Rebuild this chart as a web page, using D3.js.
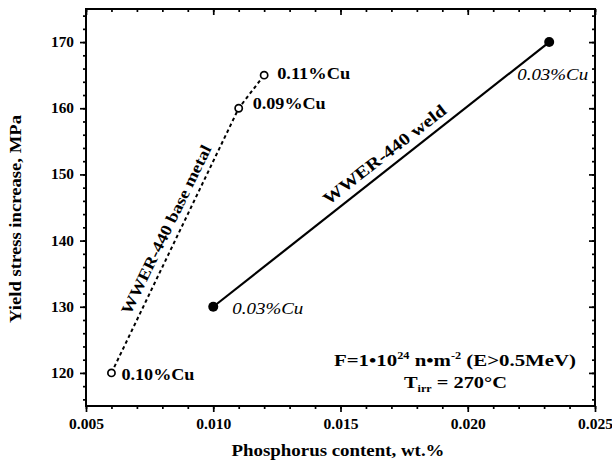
<!DOCTYPE html>
<html>
<head>
<meta charset="utf-8">
<script src="https://cdn.jsdelivr.net/npm/d3@7"></script>
<style>
  html, body { margin: 0; padding: 0; background: #fff; }
  svg { display: block; }
  text { font-family: "Liberation Serif", "Times New Roman", serif; fill: #000; }
</style>
</head>
<body>
<svg id="chart" width="612" height="463"></svg>
<script>
// Yield stress increase vs phosphorus content, WWER-440 steels
const xTicks = [0.005, 0.010, 0.015, 0.020, 0.025];
const xTickLabels = ["0.005", "0.010", "0.015", "0.020", "0.025"];
const yTicks = [120, 130, 140, 150, 160, 170];

// base metal series (open circles, dashed line)
const basePhosphorus = [0.006, 0.011, 0.012];
const baseYield = [120, 160, 165];
const baseCopper = ["0.10%Cu", "0.09%Cu", "0.11%Cu"];

// weld series (filled circles, solid line)
const weldPhosphorus = [0.010, 0.0232];
const weldYield = [130, 170];
const weldCopper = ["0.03%Cu", "0.03%Cu"];

const ink = "#000";
const svg = d3.select("#chart");
const plotLeft = 86, plotRight = 595, plotTop = 9, plotBottom = 406;

const x = d3.scaleLinear().domain([0.005, 0.025]).range([plotLeft, plotRight]);
const y = d3.scaleLinear().domain([115, 175]).range([plotBottom, plotTop]);

const xMinor = d3.range(0.005, 0.02501, 0.001).map(v => +v.toFixed(3));
const yMinor = d3.range(116, 175, 2);

// lettering is set wide: stretch each string to its set width
function setWidth(sel, w) {
  return sel.attr("textLength", w).attr("lengthAdjust", "spacingAndGlyphs");
}

function styleAxis(g) {
  g.select(".domain").remove();
  g.selectAll("line").attr("stroke", ink).attr("stroke-width", 1.7);
}

// minor ticks
svg.append("g").attr("transform", `translate(0,${plotBottom})`)
  .call(d3.axisBottom(x).tickValues(xMinor).tickSize(3).tickFormat(""))
  .call(styleAxis);
svg.append("g").attr("transform", `translate(0,${plotTop})`)
  .call(d3.axisTop(x).tickValues(xMinor).tickSize(-3).tickFormat(""))
  .call(styleAxis);
svg.append("g").attr("transform", `translate(${plotLeft},0)`)
  .call(d3.axisLeft(y).tickValues(yMinor).tickSize(3).tickFormat(""))
  .call(styleAxis);
svg.append("g").attr("transform", `translate(${plotRight},0)`)
  .call(d3.axisRight(y).tickValues(yMinor).tickSize(-3).tickFormat(""))
  .call(styleAxis);

// major ticks with labels
svg.append("g").attr("transform", `translate(0,${plotBottom})`)
  .call(d3.axisBottom(x).tickValues(xTicks).tickSize(6).tickPadding(7)
    .tickFormat((d, i) => xTickLabels[i]))
  .call(styleAxis)
  .call(g => g.selectAll("text").attr("font-size", 14).attr("font-weight", "bold")
    .attr("font-family", "Liberation Serif").attr("fill", ink)
    .call(setWidth, 35));
svg.append("g").attr("transform", `translate(0,${plotTop})`)
  .call(d3.axisTop(x).tickValues(xTicks).tickSize(-6).tickFormat(""))
  .call(styleAxis);
svg.append("g").attr("transform", `translate(${plotLeft},0)`)
  .call(d3.axisLeft(y).tickValues(yTicks).tickSize(6).tickPadding(6))
  .call(styleAxis)
  .call(g => g.selectAll("text").attr("font-size", 14).attr("font-weight", "bold")
    .attr("font-family", "Liberation Serif").attr("fill", ink)
    .call(setWidth, 23));
svg.append("g").attr("transform", `translate(${plotRight},0)`)
  .call(d3.axisRight(y).tickValues(yTicks).tickSize(-6).tickFormat(""))
  .call(styleAxis);

// frame
svg.append("rect")
  .attr("x", plotLeft).attr("y", plotTop)
  .attr("width", plotRight - plotLeft).attr("height", plotBottom - plotTop)
  .attr("fill", "none").attr("stroke", ink).attr("stroke-width", 2);

// axis titles
svg.append("text")
  .attr("x", 338).attr("y", 456)
  .attr("text-anchor", "middle").attr("font-size", 17).attr("font-weight", "bold")
  .text("Phosphorus content, wt.%")
  .call(setWidth, 213);
svg.append("text")
  .attr("transform", "translate(21,219) rotate(-90)")
  .attr("text-anchor", "middle").attr("font-size", 17).attr("font-weight", "bold")
  .text("Yield stress increase, MPa")
  .call(setWidth, 208);

const line = d3.line().x(d => x(d[0])).y(d => y(d[1]));

// base metal
const baseNudge = [[10, 7], [14, 1], [13, 4]];
const baseData = basePhosphorus.map((p, i) => [p, baseYield[i], baseCopper[i]]);
svg.append("path").datum(baseData)
  .attr("d", line).attr("fill", "none")
  .attr("stroke", ink).attr("stroke-width", 2)
  .attr("stroke-dasharray", "3.5,3");
svg.append("g").selectAll("circle").data(baseData).join("circle")
  .attr("cx", d => x(d[0])).attr("cy", d => y(d[1])).attr("r", 3.6)
  .attr("fill", "#fff").attr("stroke", ink).attr("stroke-width", 1.7);
svg.append("g").selectAll("text").data(baseData).join("text")
  .attr("x", (d, i) => x(d[0]) + baseNudge[i][0])
  .attr("y", (d, i) => y(d[1]) + baseNudge[i][1])
  .attr("font-size", 16).attr("font-weight", "bold")
  .text(d => d[2])
  .call(setWidth, 73);

// weld
const weldNudge = [[19, 7], [-32, 38]];
const weldData = weldPhosphorus.map((p, i) => [p, weldYield[i], weldCopper[i]]);
svg.append("path").datum(weldData)
  .attr("d", line).attr("fill", "none")
  .attr("stroke", ink).attr("stroke-width", 2.2);
svg.append("g").selectAll("circle").data(weldData).join("circle")
  .attr("cx", d => x(d[0])).attr("cy", d => y(d[1])).attr("r", 5)
  .attr("fill", ink);
svg.append("g").selectAll("text").data(weldData).join("text")
  .attr("x", (d, i) => x(d[0]) + weldNudge[i][0])
  .attr("y", (d, i) => y(d[1]) + weldNudge[i][1])
  .attr("font-size", 16).attr("font-style", "italic")
  .text(d => d[2])
  .call(setWidth, 71);

// series names along the lines
svg.append("text")
  .attr("transform", "translate(171,232) rotate(-64)")
  .attr("text-anchor", "middle").attr("font-size", 16).attr("font-weight", "bold")
  .text("WWER-440 base metal")
  .call(setWidth, 186);
svg.append("text")
  .attr("transform", "translate(388,159) rotate(-38)")
  .attr("text-anchor", "middle").attr("font-size", 17).attr("font-weight", "bold")
  .text("WWER-440 weld")
  .call(setWidth, 151);

// irradiation conditions
const f = svg.append("text")
  .attr("x", 334).attr("y", 366)
  .attr("font-size", 17).attr("font-weight", "bold")
  .call(setWidth, 242);
f.append("tspan").text("F=1\u202210");
f.append("tspan").attr("font-size", 10).attr("dy", -7).text("24");
f.append("tspan").attr("dy", 7).text(" n\u2022m");
f.append("tspan").attr("font-size", 10).attr("dy", -7).text("-2");
f.append("tspan").attr("dy", 7).text(" (E>0.5MeV)");

const t = svg.append("text")
  .attr("x", 404).attr("y", 388)
  .attr("font-size", 17).attr("font-weight", "bold")
  .call(setWidth, 103);
t.append("tspan").text("T");
t.append("tspan").attr("font-size", 10).attr("dy", 4).text("irr");
t.append("tspan").attr("dy", -4).text(" = 270\u00B0C");
</script>
</body>
</html>
